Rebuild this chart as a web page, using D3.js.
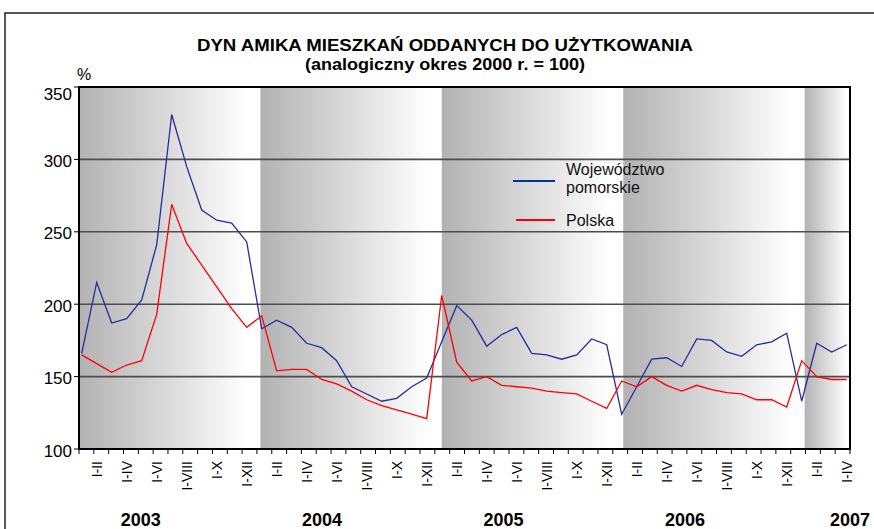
<!DOCTYPE html>
<html>
<head>
<meta charset="utf-8">
<script src="https://cdn.jsdelivr.net/npm/d3@7"></script>
<style>
  body { margin: 0; background: #fff; }
  svg { display: block; }
  text { font-family: "Liberation Sans", Arial, sans-serif; }
</style>
</head>
<body>
<div id="chart"></div>
<script>
WIDTH = 874;
HEIGHT = 529;

// data (2003 I ... 2007 I-IV)
var years = ["2003", "2004", "2005", "2006", "2007"];
var months = ["I", "I-II", "I-III", "I-IV", "I-V", "I-VI", "I-VII", "I-VIII", "I-IX", "I-X", "I-XI", "I-XII"];
var pomorskie = [
  166, 215, 187, 190, 203, 241, 331, 295, 265, 258, 256, 243,
  183, 189, 184, 173, 170, 161, 143, 138, 133, 135, 143, 149,
  174, 199, 189, 171, 179, 184, 166, 165, 162, 165, 176, 172,
  124, 143, 162, 163, 157, 176, 175, 167, 164, 172, 174, 180,
  133, 173, 167, 172
];
var polska = [
  165, 159, 153, 158, 161, 193, 269, 242, 227, 212, 197, 184,
  192, 154, 155, 155, 148, 145, 140, 134, 130, 127, 124, 121,
  206, 160, 147, 150, 144, 143, 142, 140, 139, 138, 133, 128,
  147, 143, 150, 144, 140, 144, 141, 139, 138, 134, 134, 129,
  161, 150, 148, 148
];
var yTicks = [100, 150, 200, 250, 300, 350];
var gridValues = [150, 200, 250, 300];

var plot = { left: 79, right: 850, top: 87, bottom: 449 };

var svg = d3.select("#chart").append("svg")
  .attr("width", WIDTH)
  .attr("height", HEIGHT);

var categories = [];
years.forEach(function(yr) {
  months.forEach(function(m) { categories.push({ year: yr, month: m }); });
});
categories = categories.slice(0, pomorskie.length);

var x = d3.scaleLinear().domain([0, categories.length - 1]).range([81.7, 846.7]);
var y = d3.scaleLinear().domain([100, 350]).range([plot.bottom, plot.top]);
var bandX = d3.scaleLinear().domain([2003, 2007.25]).range([plot.left, plot.right]);
var tickX = d3.scaleLinear().domain([0, categories.length]).range([plot.left, plot.right]);

// outer frame
svg.append("rect")
  .attr("x", 5).attr("y", 13)
  .attr("width", 900).attr("height", 600)
  .attr("fill", "none")
  .attr("stroke", "#222")
  .attr("stroke-width", 1.5);

// titles
svg.append("text")
  .attr("x", 445).attr("y", 51)
  .attr("text-anchor", "middle")
  .attr("font-size", 16).attr("font-weight", "bold")
  .attr("textLength", 496).attr("lengthAdjust", "spacingAndGlyphs")
  .text("DYN AMIKA MIESZKAŃ ODDANYCH DO UŻYTKOWANIA");
svg.append("text")
  .attr("x", 445).attr("y", 70)
  .attr("text-anchor", "middle")
  .attr("font-size", 16).attr("font-weight", "bold")
  .attr("textLength", 280).attr("lengthAdjust", "spacingAndGlyphs")
  .text("(analogiczny okres 2000 r. = 100)");
svg.append("text")
  .attr("x", 84).attr("y", 80)
  .attr("text-anchor", "middle")
  .attr("font-size", 16)
  .text("%");

// background bands, one per year
var defs = svg.append("defs");
var grad = defs.append("linearGradient").attr("id", "band").attr("x1", 0).attr("x2", 1).attr("y1", 0).attr("y2", 0);
grad.append("stop").attr("offset", 0).attr("stop-color", "#b2b2b2");
grad.append("stop").attr("offset", 0.93).attr("stop-color", "#ffffff");
grad.append("stop").attr("offset", 1).attr("stop-color", "#ffffff");

svg.append("g").selectAll("rect")
  .data(years)
  .enter().append("rect")
  .attr("x", function(d) { return bandX(+d); })
  .attr("y", plot.top)
  .attr("width", function(d) { return Math.min(bandX(+d + 1), plot.right) - bandX(+d); })
  .attr("height", plot.bottom - plot.top)
  .attr("fill", "url(#band)");

// grid lines
svg.append("g").selectAll("line")
  .data(gridValues)
  .enter().append("line")
  .attr("x1", plot.left).attr("x2", plot.right)
  .attr("y1", function(d) { return y(d); })
  .attr("y2", function(d) { return y(d); })
  .attr("stroke", "#4d4d4d")
  .attr("stroke-width", 1.6);

// plot border
svg.append("rect")
  .attr("x", plot.left).attr("y", plot.top)
  .attr("width", plot.right - plot.left)
  .attr("height", plot.bottom - plot.top)
  .attr("fill", "none")
  .attr("stroke", "#000")
  .attr("stroke-width", 2);

// y axis
var yAxis = svg.append("g");
yAxis.selectAll("line")
  .data(yTicks)
  .enter().append("line")
  .attr("x1", plot.left - 5).attr("x2", plot.left)
  .attr("y1", function(d) { return y(d); })
  .attr("y2", function(d) { return y(d); })
  .attr("stroke", "#000");
yAxis.selectAll("text")
  .data(yTicks)
  .enter().append("text")
  .attr("x", plot.left - 7)
  .attr("y", function(d) { return y(d); })
  .attr("dy", function(d) { return d === 350 ? "0.75em" : "0.45em"; })
  .attr("text-anchor", "end")
  .attr("font-size", 17)
  .text(function(d) { return d; });

// x axis ticks and labels
var xAxis = svg.append("g");
xAxis.selectAll("line")
  .data(d3.range(categories.length + 1))
  .enter().append("line")
  .attr("x1", function(d) { return tickX(d); })
  .attr("x2", function(d) { return tickX(d); })
  .attr("y1", plot.bottom)
  .attr("y2", plot.bottom + 5)
  .attr("stroke", "#000");
xAxis.selectAll("text")
  .data(categories.map(function(c, i) { return { c: c, i: i }; }).filter(function(d) { return d.i % 2 === 1; }))
  .enter().append("text")
  .attr("transform", function(d) { return "translate(" + x(d.i) + "," + (plot.bottom + 12) + ") rotate(-90)"; })
  .attr("dy", "0.35em")
  .attr("text-anchor", "end")
  .attr("font-size", 14)
  .text(function(d) { return d.c.month; });

svg.append("g").selectAll("text")
  .data(years)
  .enter().append("text")
  .attr("x", function(d) { return Math.min(bandX(+d + 0.34), WIDTH - 24); })
  .attr("y", 526)
  .attr("text-anchor", "middle")
  .attr("font-size", 18)
  .attr("font-weight", "bold")
  .text(function(d) { return d; });

// series
var line = d3.line()
  .x(function(d, i) { return x(i); })
  .y(function(d) { return y(d); });

svg.append("path")
  .datum(pomorskie)
  .attr("d", line)
  .attr("fill", "none")
  .attr("stroke", "#2a2a9c")
  .attr("stroke-width", 1.3);

svg.append("path")
  .datum(polska)
  .attr("d", line)
  .attr("fill", "none")
  .attr("stroke", "#ff0000")
  .attr("stroke-width", 1.3);

// legend
var legend = svg.append("g");
legend.append("line")
  .attr("x1", 513).attr("x2", 555).attr("y1", 181).attr("y2", 181)
  .attr("stroke", "#003399").attr("stroke-width", 2);
legend.append("text")
  .attr("x", 566).attr("y", 175)
  .attr("font-size", 16).attr("fill", "#111")
  .text("Województwo");
legend.append("text")
  .attr("x", 566).attr("y", 193)
  .attr("font-size", 16).attr("fill", "#111")
  .text("pomorskie");
legend.append("line")
  .attr("x1", 516).attr("x2", 555).attr("y1", 220).attr("y2", 220)
  .attr("stroke", "#ff0000").attr("stroke-width", 2);
legend.append("text")
  .attr("x", 566).attr("y", 226)
  .attr("font-size", 16).attr("fill", "#111")
  .text("Polska");
</script>
</body>
</html>
